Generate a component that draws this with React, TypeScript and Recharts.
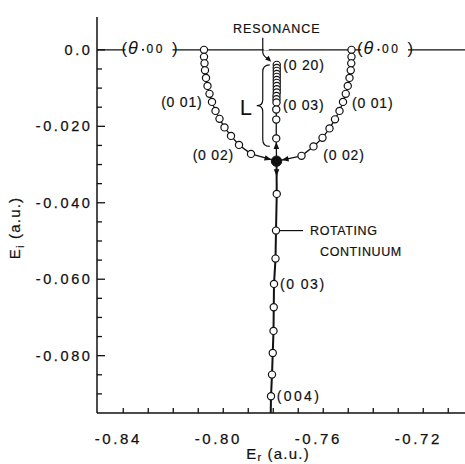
import React from 'react';
import { ScatterChart, Scatter, XAxis, YAxis, ReferenceLine, ReferenceDot } from 'recharts';

const FONT = '"Liberation Sans", Arial, Helvetica, sans-serif';
const INK = '#111';

type Pt = { x: number; y: number };

// theta = 0: spectrum lies on the real axis
const realAxis: Pt[] = [
  { x: -0.8505, y: 0 },
  { x: -0.7033, y: 0 },
];

// left threshold branch, theta increasing downward
const leftBranch: Pt[] = [
  { x: -0.8077, y: 0 },
  { x: -0.8077, y: -0.00183 },
  { x: -0.8075, y: -0.00353 },
  { x: -0.8073, y: -0.00536 },
  { x: -0.8069, y: -0.00733 },
  { x: -0.8063, y: -0.00942 },
  { x: -0.8055, y: -0.01151 },
  { x: -0.8045, y: -0.01361 },
  { x: -0.8031, y: -0.01596 },
  { x: -0.8015, y: -0.01805 },
  { x: -0.7995, y: -0.02028 },
  { x: -0.7969, y: -0.0225 },
  { x: -0.7937, y: -0.02486 },
  { x: -0.7889, y: -0.02721 },
];

// right threshold branch
const rightBranch: Pt[] = [
  { x: -0.7487, y: 0 },
  { x: -0.7487, y: -0.00183 },
  { x: -0.7488, y: -0.00353 },
  { x: -0.749, y: -0.00536 },
  { x: -0.7495, y: -0.00733 },
  { x: -0.7502, y: -0.00942 },
  { x: -0.751, y: -0.01151 },
  { x: -0.7521, y: -0.01361 },
  { x: -0.7535, y: -0.01596 },
  { x: -0.7553, y: -0.01818 },
  { x: -0.7575, y: -0.02054 },
  { x: -0.7603, y: -0.02302 },
  { x: -0.7639, y: -0.02525 },
  { x: -0.7687, y: -0.02773 },
];

// resonance eigenvalue, theta = 0.20 (top) down to 0.01
const resonance: Pt[] = [
  { x: -0.7786, y: -0.00392 },
  { x: -0.7786, y: -0.00471 },
  { x: -0.7786, y: -0.00549 },
  { x: -0.7786, y: -0.00628 },
  { x: -0.7786, y: -0.00706 },
  { x: -0.7786, y: -0.00785 },
  { x: -0.7786, y: -0.00863 },
  { x: -0.7786, y: -0.00942 },
  { x: -0.7786, y: -0.01028 },
  { x: -0.7786, y: -0.01115 },
  { x: -0.7787, y: -0.01204 },
  { x: -0.7787, y: -0.0129 },
  { x: -0.7787, y: -0.01374 },
  { x: -0.7788, y: -0.01562 },
  { x: -0.7788, y: -0.01824 },
  { x: -0.7788, y: -0.02316 },
];

// meeting point of the branches
const crossing: Pt[] = [{ x: -0.7787, y: -0.02912 }];

// rotating continuum
const continuum: Pt[] = [
  { x: -0.7786, y: -0.03768 },
  { x: -0.7789, y: -0.04728 },
  { x: -0.7791, y: -0.05461 },
  { x: -0.7797, y: -0.06122 },
  { x: -0.7798, y: -0.06732 },
  { x: -0.7799, y: -0.07352 },
  { x: -0.7802, y: -0.07928 },
  { x: -0.7805, y: -0.08496 },
  { x: -0.7809, y: -0.09061 },
];
const continuumEnd: Pt[] = [
  { x: -0.7809, y: -0.09061 },
  { x: -0.781, y: -0.095 },
];

const xTicks = [-0.84, -0.83, -0.82, -0.81, -0.8, -0.79, -0.78, -0.77, -0.76, -0.75, -0.74, -0.73, -0.72, -0.71];
const xLabelValues = [-0.84, -0.8, -0.76, -0.72];
const xLabelTexts = ['-0.84', '-0.80', '-0.76', '-0.72'];

const yTicks = [0, -0.005, -0.01, -0.015, -0.02, -0.025, -0.03, -0.035, -0.04, -0.045, -0.05, -0.055, -0.06, -0.065, -0.07, -0.075, -0.08, -0.085, -0.09];
const yLabelValues = [0, -0.02, -0.04, -0.06, -0.08];
const yLabelTexts = ['0.0', '-0.020', '-0.040', '-0.060', '-0.080'];

const near = (a: number, b: number) => Math.abs(a - b) < 1e-9;

const XTick = (p: any) => {
  const { x, y, payload } = p;
  const i = xLabelValues.findIndex((v) => near(v, payload.value));
  return (
    <g>
      <line x1={x} x2={x} y1={y} y2={y - 5} stroke={INK} strokeWidth={1.3} />
      {i >= 0 && (
        <text x={x - 5} y={y + 31} textAnchor="middle" fontFamily={FONT} fontSize={15} letterSpacing={2.6} fill={INK} stroke={INK} strokeWidth={0.25}>
          {xLabelTexts[i]}
        </text>
      )}
    </g>
  );
};

const YTick = (p: any) => {
  const { x, y, payload } = p;
  const i = yLabelValues.findIndex((v) => near(v, payload.value));
  return (
    <g>
      <line x1={x} x2={x + (i >= 0 ? 8 : 5)} y1={y} y2={y} stroke={INK} strokeWidth={1.3} />
      {i >= 0 && (
        <text x={x - 4.5} y={y + 5} textAnchor="end" fontFamily={FONT} fontSize={14.5} letterSpacing={2.6} fill={INK} stroke={INK} strokeWidth={0.25}>
          {yLabelTexts[i]}
        </text>
      )}
    </g>
  );
};

const XTitle = (p: any) => {
  const vb = p.viewBox || {};
  const cx = (vb.x ?? 97) + (vb.width ?? 368) / 2 - 3;
  const by = (vb.y ?? 413) + 46;
  return (
    <text x={cx} y={by} textAnchor="middle" fontFamily={FONT} fontSize={15} letterSpacing={1.2} fill={INK} stroke={INK} strokeWidth={0.2}>
      E<tspan fontSize={11} dy={2}>r</tspan>
      <tspan dy={-2}> (a.u.)</tspan>
    </text>
  );
};

const YTitle = (p: any) => {
  const vb = p.viewBox || {};
  const cy = (vb.y ?? 17) + (vb.height ?? 396) / 2 + 13;
  return (
    <text transform={`translate(20, ${cy}) rotate(-90)`} textAnchor="middle" fontFamily={FONT} fontSize={15} letterSpacing={1.2} fill={INK} stroke={INK} strokeWidth={0.2}>
      E<tspan fontSize={11} dy={4}>i</tspan>
      <tspan dy={-4}> (a.u.)</tspan>
    </text>
  );
};

const openCircle = (p: any) => <circle cx={p.cx} cy={p.cy} r={3.6} fill="#fff" stroke={INK} strokeWidth={1.2} />;
const filledCircle = (p: any) => <circle cx={p.cx} cy={p.cy} r={5.2} fill={INK} stroke={INK} />;
const noMark = () => <g />;

// straight segment with a filled arrowhead; tip sits `tipBack` px before the end, or at fraction `tipFrac`
const arrowLine = (startGap: number, endGap: number, tipBack: number | null, tipFrac: number | null, sw = 1.3) => (p: any) => {
  const { x1, y1, x2, y2 } = p;
  const dx = x2 - x1;
  const dy = y2 - y1;
  const len = Math.hypot(dx, dy) || 1;
  const ux = dx / len;
  const uy = dy / len;
  const t = tipFrac != null ? len * tipFrac : len - (tipBack ?? endGap);
  const tx = x1 + ux * t;
  const ty = y1 + uy * t;
  const L = 7;
  const W = 2.8;
  const bx = tx - ux * L;
  const by = ty - uy * L;
  return (
    <g>
      <line x1={x1 + ux * startGap} y1={y1 + uy * startGap} x2={x2 - ux * endGap} y2={y2 - uy * endGap} stroke={INK} strokeWidth={sw} />
      <polygon points={`${tx},${ty} ${bx - uy * W},${by + ux * W} ${bx + uy * W},${by - ux * W}`} fill={INK} />
    </g>
  );
};

// curly brace spanning the resonance arm, with the "L" tag
const braceShape = (p: any) => {
  const { x1, y1, y2 } = p;
  const top = y1;
  const bot = y2 + 8;
  const mid = (top + bot) / 2;
  const tip = x1 - 7;
  const body = x1 - 14;
  const point = x1 - 20;
  const d = `M${tip},${top} Q${body},${top} ${body},${top + 7} L${body},${mid - 6} Q${body},${mid} ${point},${mid} Q${body},${mid} ${body},${mid + 6} L${body},${bot - 7} Q${body},${bot} ${tip},${bot}`;
  return (
    <g>
      <path d={d} fill="none" stroke={INK} strokeWidth={1.2} />
      <text x={point - 17} y={mid + 9} fontFamily={FONT} fontSize={22} fill={INK}>
        L
      </text>
    </g>
  );
};

const tag = (text: string, dx: number, dy: number, anchor: 'start' | 'end' | 'middle', size = 14, spacing = 0.8) => (p: any) => (
  <text x={p.cx + dx} y={p.cy + dy} textAnchor={anchor} fontFamily={FONT} fontSize={size} letterSpacing={spacing} fill={INK} stroke={INK} strokeWidth={0.2}>
    {text}
  </text>
);

// "(θ·00)" tag sitting on the real axis, starting `start` px from the anchor
const thetaTag = (start: number) => (p: any) => {
  const x0 = p.cx + start;
  const y = p.cy;
  return (
    <g>
      <rect x={x0 + 4} y={y - 9} width={47} height={18} fill="#fff" />
      <text x={x0} y={y + 4.5} fontFamily={FONT} fontSize={17} fill={INK}>(</text>
      <text x={x0 + 6.5} y={y + 4} fontFamily={FONT} fontSize={18} fontStyle="italic" fill={INK}>θ</text>
      <circle cx={x0 + 21.5} cy={y} r={1.1} fill={INK} />
      <text x={x0 + 25} y={y + 3.5} fontFamily={FONT} fontSize={12} letterSpacing={2.5} fill={INK} stroke={INK} strokeWidth={0.2}>00</text>
      <text x={x0 + 50.5} y={y + 4.5} fontFamily={FONT} fontSize={17} fill={INK}>)</text>
    </g>
  );
};

// "RESONANCE" caption with its leader onto the top of the resonance arm
const resonanceCaption = (p: any) => {
  const { cx, cy } = p;
  const vx = cx - 14;
  const lead = `M${vx},${cy - 27} L${vx},${cy - 13} Q${vx},${cy - 9} ${cx - 9},${cy - 6}`;
  const tx = cx - 5.5;
  const ty = cy - 3;
  const ux = 0.72;
  const uy = 0.69;
  const bx = tx - ux * 6;
  const by = ty - uy * 6;
  return (
    <g>
      <rect x={vx + 1} y={cy - 18.5} width={5} height={4} fill="#fff" />
      <path d={lead} fill="none" stroke={INK} strokeWidth={1.2} />
      <polygon points={`${tx},${ty} ${bx - uy * 2.6},${by + ux * 2.6} ${bx + uy * 2.6},${by - ux * 2.6}`} fill={INK} />
      <text x={cx} y={cy - 32} textAnchor="middle" fontFamily={FONT} fontSize={12.5} letterSpacing={0.9} fill={INK} stroke={INK} strokeWidth={0.2}>
        RESONANCE
      </text>
    </g>
  );
};

const continuumCaption = (p: any) => {
  const { cx, cy } = p;
  return (
    <g>
      <line x1={cx + 4} x2={cx + 27} y1={cy} y2={cy} stroke={INK} strokeWidth={1.2} />
      <text x={cx + 34} y={cy + 4.5} fontFamily={FONT} fontSize={12.5} letterSpacing={0.6} fill={INK} stroke={INK} strokeWidth={0.2}>ROTATING</text>
      <text x={cx + 44} y={cy + 25} fontFamily={FONT} fontSize={12.5} letterSpacing={0.6} fill={INK} stroke={INK} strokeWidth={0.2}>CONTINUUM</text>
    </g>
  );
};

export default function App() {
  const lastRes = resonance[resonance.length - 1];
  return (
    <div style={{ position: 'absolute', left: 0, top: 0, width: 465, height: 464, background: '#fff' }}>
      <ScatterChart width={465} height={464} margin={{ top: 17, right: 0, bottom: 0, left: 0 }}>
        <XAxis
          type="number"
          dataKey="x"
          domain={[-0.8505, -0.7033]}
          allowDataOverflow
          ticks={xTicks}
          interval={0}
          tick={XTick}
          tickLine={false}
          tickSize={0}
          tickMargin={0}
          height={51}
          axisLine={{ stroke: INK, strokeWidth: 1.5 }}
          label={<XTitle />}
        />
        <YAxis
          type="number"
          dataKey="y"
          domain={[-0.095, 0.0086]}
          allowDataOverflow
          ticks={yTicks}
          interval={0}
          tick={YTick}
          tickLine={false}
          tickSize={0}
          tickMargin={0}
          width={97}
          axisLine={{ stroke: INK, strokeWidth: 1.5 }}
          label={<YTitle />}
        />
        <Scatter data={realAxis} line={{ stroke: INK, strokeWidth: 1.3 }} lineType="joint" shape={noMark} isAnimationActive={false} />
        <Scatter data={continuumEnd} line={{ stroke: INK, strokeWidth: 2 }} lineType="joint" shape={noMark} isAnimationActive={false} />
        <Scatter data={leftBranch} line={{ stroke: INK, strokeWidth: 1.3 }} lineType="joint" shape={openCircle} isAnimationActive={false} />
        <Scatter data={rightBranch} line={{ stroke: INK, strokeWidth: 1.3 }} lineType="joint" shape={openCircle} isAnimationActive={false} />
        <Scatter data={resonance} line={{ stroke: INK, strokeWidth: 1.3 }} lineType="joint" shape={openCircle} isAnimationActive={false} />
        <Scatter data={continuum} line={{ stroke: INK, strokeWidth: 2 }} lineType="joint" shape={openCircle} isAnimationActive={false} />
        <Scatter data={crossing} shape={filledCircle} isAnimationActive={false} />

        <ReferenceLine segment={[leftBranch[leftBranch.length - 1], crossing[0]]} shape={arrowLine(3.6, 5.2, 5.2, null)} />
        <ReferenceLine segment={[rightBranch[rightBranch.length - 1], crossing[0]]} shape={arrowLine(3.6, 5.2, 5.2, null)} />
        <ReferenceLine segment={[crossing[0], lastRes]} shape={arrowLine(5.2, 3.6, 3.6, null)} />
        <ReferenceLine segment={[crossing[0], continuum[0]]} shape={arrowLine(5.2, 3.6, null, 0.46, 2)} />
        <ReferenceLine segment={[resonance[0], lastRes]} shape={braceShape} />

        <ReferenceDot x={leftBranch[0].x} y={leftBranch[0].y} ifOverflow="visible" shape={thetaTag(-82.5)} />
        <ReferenceDot x={rightBranch[0].x} y={rightBranch[0].y} ifOverflow="visible" shape={thetaTag(5.5)} />
        <ReferenceDot x={resonance[0].x} y={resonance[0].y} ifOverflow="visible" shape={resonanceCaption} />
        <ReferenceDot x={resonance[0].x} y={resonance[0].y} ifOverflow="visible" shape={tag('(0 20)', 6.5, 5.5, 'start')} />
        <ReferenceDot x={resonance[12].x} y={resonance[12].y} ifOverflow="visible" shape={tag('(0 03)', 6.5, 7.8, 'start')} />
        <ReferenceDot x={leftBranch[7].x} y={leftBranch[7].y} ifOverflow="visible" shape={tag('(0 01)', -9.5, 5, 'end')} />
        <ReferenceDot x={rightBranch[7].x} y={rightBranch[7].y} ifOverflow="visible" shape={tag('(0 01)', 9, 6, 'start')} />
        <ReferenceDot x={leftBranch[13].x} y={leftBranch[13].y} ifOverflow="visible" shape={tag('(0 02)', -17, 5.7, 'end')} />
        <ReferenceDot x={rightBranch[13].x} y={rightBranch[13].y} ifOverflow="visible" shape={tag('(0 02)', 21.8, 3.7, 'start')} />
        <ReferenceDot x={continuum[1].x} y={continuum[1].y} ifOverflow="visible" shape={continuumCaption} />
        <ReferenceDot x={continuum[3].x} y={continuum[3].y} ifOverflow="visible" shape={tag('(0 03)', 6, 5, 'start', 14, 1.5)} />
        <ReferenceDot x={continuum[8].x} y={continuum[8].y} ifOverflow="visible" shape={tag('(004)', 5.7, 5, 'start', 14, 2.4)} />
      </ScatterChart>
    </div>
  );
}
